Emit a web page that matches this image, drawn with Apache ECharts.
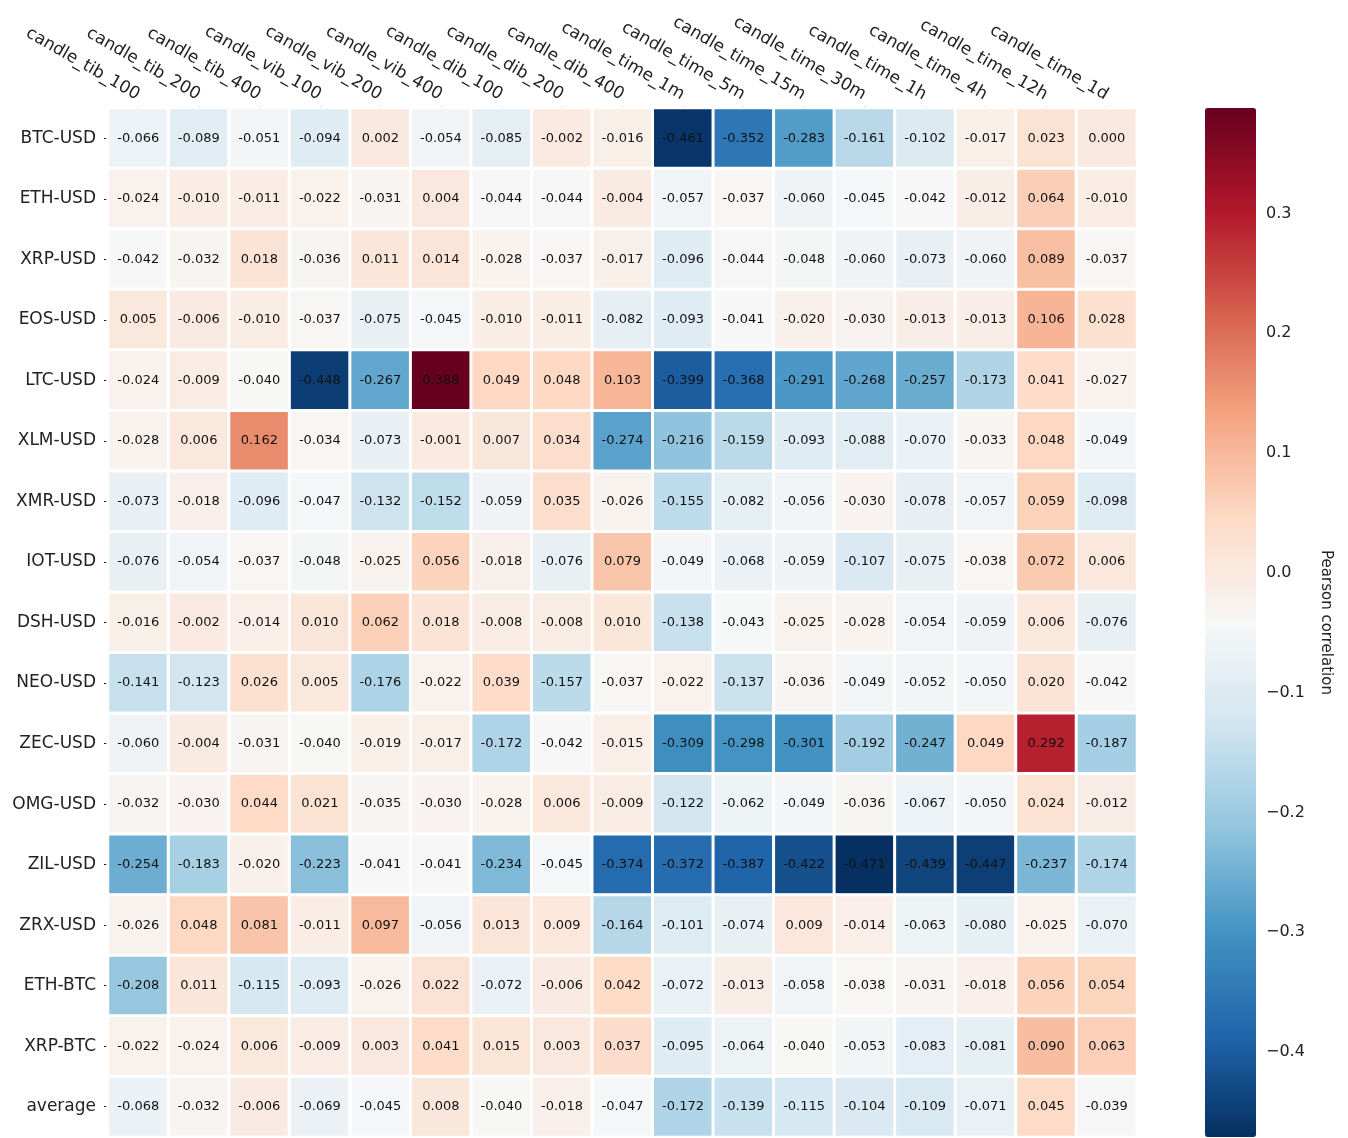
<!DOCTYPE html>
<html>
<head>
<meta charset="utf-8">
<script src="https://cdn.jsdelivr.net/npm/echarts@6/dist/echarts.min.js"></script>
<style>
	html, body { margin: 0; padding: 0; background: #fff; }
	#chart { width: 1348px; height: 1138px; }
</style>
</head>
<body>
<div id="chart"></div>
<script>
var features = ['candle_tib_100', 'candle_tib_200', 'candle_tib_400', 'candle_vib_100', 'candle_vib_200', 'candle_vib_400',
	'candle_dib_100', 'candle_dib_200', 'candle_dib_400', 'candle_time_1m', 'candle_time_5m', 'candle_time_15m',
	'candle_time_30m', 'candle_time_1h', 'candle_time_4h', 'candle_time_12h', 'candle_time_1d'];
var pairs = ['BTC-USD', 'ETH-USD', 'XRP-USD', 'EOS-USD', 'LTC-USD', 'XLM-USD', 'XMR-USD', 'IOT-USD', 'DSH-USD',
	'NEO-USD', 'ZEC-USD', 'OMG-USD', 'ZIL-USD', 'ZRX-USD', 'ETH-BTC', 'XRP-BTC', 'average'];

// one row per pair, same order as features
var corr = [
	[-0.066, -0.089, -0.051, -0.094, 0.002, -0.054, -0.085, -0.002, -0.016, -0.461, -0.352, -0.283, -0.161, -0.102, -0.017, 0.023, 0.000],
	[-0.024, -0.010, -0.011, -0.022, -0.031, 0.004, -0.044, -0.044, -0.004, -0.057, -0.037, -0.060, -0.045, -0.042, -0.012, 0.064, -0.010],
	[-0.042, -0.032, 0.018, -0.036, 0.011, 0.014, -0.028, -0.037, -0.017, -0.096, -0.044, -0.048, -0.060, -0.073, -0.060, 0.089, -0.037],
	[0.005, -0.006, -0.010, -0.037, -0.075, -0.045, -0.010, -0.011, -0.082, -0.093, -0.041, -0.020, -0.030, -0.013, -0.013, 0.106, 0.028],
	[-0.024, -0.009, -0.040, -0.448, -0.267, 0.388, 0.049, 0.048, 0.103, -0.399, -0.368, -0.291, -0.268, -0.257, -0.173, 0.041, -0.027],
	[-0.028, 0.006, 0.162, -0.034, -0.073, -0.001, 0.007, 0.034, -0.274, -0.216, -0.159, -0.093, -0.088, -0.070, -0.033, 0.048, -0.049],
	[-0.073, -0.018, -0.096, -0.047, -0.132, -0.152, -0.059, 0.035, -0.026, -0.155, -0.082, -0.056, -0.030, -0.078, -0.057, 0.059, -0.098],
	[-0.076, -0.054, -0.037, -0.048, -0.025, 0.056, -0.018, -0.076, 0.079, -0.049, -0.068, -0.059, -0.107, -0.075, -0.038, 0.072, 0.006],
	[-0.016, -0.002, -0.014, 0.010, 0.062, 0.018, -0.008, -0.008, 0.010, -0.138, -0.043, -0.025, -0.028, -0.054, -0.059, 0.006, -0.076],
	[-0.141, -0.123, 0.026, 0.005, -0.176, -0.022, 0.039, -0.157, -0.037, -0.022, -0.137, -0.036, -0.049, -0.052, -0.050, 0.020, -0.042],
	[-0.060, -0.004, -0.031, -0.040, -0.019, -0.017, -0.172, -0.042, -0.015, -0.309, -0.298, -0.301, -0.192, -0.247, 0.049, 0.292, -0.187],
	[-0.032, -0.030, 0.044, 0.021, -0.035, -0.030, -0.028, 0.006, -0.009, -0.122, -0.062, -0.049, -0.036, -0.067, -0.050, 0.024, -0.012],
	[-0.254, -0.183, -0.020, -0.223, -0.041, -0.041, -0.234, -0.045, -0.374, -0.372, -0.387, -0.422, -0.471, -0.439, -0.447, -0.237, -0.174],
	[-0.026, 0.048, 0.081, -0.011, 0.097, -0.056, 0.013, 0.009, -0.164, -0.101, -0.074, 0.009, -0.014, -0.063, -0.080, -0.025, -0.070],
	[-0.208, 0.011, -0.115, -0.093, -0.026, 0.022, -0.072, -0.006, 0.042, -0.072, -0.013, -0.058, -0.038, -0.031, -0.018, 0.056, 0.054],
	[-0.022, -0.024, 0.006, -0.009, 0.003, 0.041, 0.015, 0.003, 0.037, -0.095, -0.064, -0.040, -0.053, -0.083, -0.081, 0.090, 0.063],
	[-0.068, -0.032, -0.006, -0.069, -0.045, 0.008, -0.040, -0.018, -0.047, -0.172, -0.139, -0.115, -0.104, -0.109, -0.071, 0.045, -0.039]
];

var colorbarTicks = [-0.4, -0.3, -0.2, -0.1, 0.0, 0.1, 0.2, 0.3];
var rdbu_r = ['#053061', '#2166ac', '#4393c3', '#92c5de', '#d1e5f0', '#f7f7f7', '#fddbc7', '#f4a582', '#d6604d', '#b2182b', '#67001f'];
var vmin = -0.471, vmax = 0.388;

var font = 'DejaVu Sans';

var cells = [];
for (var r = 0; r < pairs.length; r++) {
	for (var c = 0; c < features.length; c++) {
		cells.push([c, r, corr[r][c]]);
	}
}

var chart = echarts.init(document.getElementById('chart'));
var option = {
	animation: false,
	backgroundColor: '#fff',
	grid: [
		{ left: 108, top: 108, width: 1029, height: 1029 },
		{ left: 1205, top: 108, width: 51, height: 1029 } // colorbar axis
	],
	xAxis: [{
		type: 'category',
		gridIndex: 0,
		position: 'top',
		data: features,
		axisLine: { show: false },
		axisTick: { show: true, alignWithLabel: true, length: 2, lineStyle: { color: '#222' } },
		axisLabel: { rotate: 30, margin: 12, fontSize: 17, color: '#222', fontFamily: font },
		splitLine: { show: false }
	}, {
		type: 'value',
		gridIndex: 1,
		show: false
	}],
	yAxis: [{
		type: 'category',
		gridIndex: 0,
		inverse: true,
		data: pairs,
		axisLine: { show: false },
		axisTick: { show: true, alignWithLabel: true, length: 4, lineStyle: { color: '#222' } },
		axisLabel: { margin: 12, fontSize: 17, color: '#222', fontFamily: font },
		splitLine: { show: false }
	}, {
		type: 'value',
		gridIndex: 1,
		position: 'right',
		min: vmin,
		max: vmax,
		axisLine: { show: false },
		splitLine: { show: false },
		axisTick: { show: true, length: 4, customValues: colorbarTicks, lineStyle: { color: '#222' } },
		axisLabel: {
			margin: 10, fontSize: 16, color: '#222', fontFamily: font,
			customValues: colorbarTicks,
			formatter: function(v) {
				var s = Math.abs(v).toFixed(1);
				return v < -0.0001 ? '\u2212' + s : s;
			}
		},
		name: 'Pearson correlation',
		nameLocation: 'middle',
		nameRotate: -90,
		nameGap: 62,
		nameTextStyle: { fontSize: 15, color: '#222', fontFamily: font }
	}],
	visualMap: {
		type: 'continuous',
		min: vmin,
		max: vmax,
		seriesIndex: 0,
		calculable: false,
		hoverLink: false,
		left: 1205,
		top: 108,
		padding: 0,
		itemWidth: 51,
		itemHeight: 1029,
		inRange: { color: rdbu_r }
	},
	series: [{
		type: 'heatmap',
		xAxisIndex: 0,
		yAxisIndex: 0,
		data: cells,
		itemStyle: { borderColor: '#fff', borderWidth: 3 },
		label: {
			show: true,
			fontSize: 13,
			fontFamily: font,
			color: '#111',
			formatter: function(p) { return p.value[2].toFixed(3); }
		},
		emphasis: { disabled: true }
	}]
};
chart.setOption(option);
</script>
</body>
</html>
